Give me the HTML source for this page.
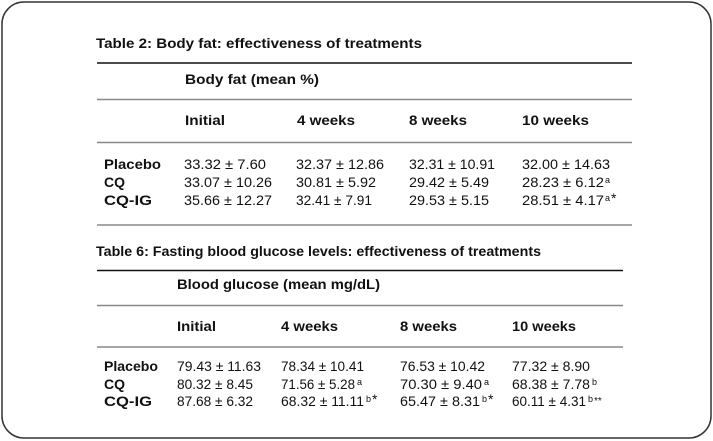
<!DOCTYPE html>
<html><head><style>
html,body{margin:0;padding:0;background:#fff;}
svg{display:block;}
text{font-family:"Liberation Sans",sans-serif;font-size:14px;fill:#111;}
.b{font-weight:bold;}
.s{font-size:9px;}
</style></head><body>
<svg width="713" height="441" viewBox="0 0 713 441">
<rect x="2" y="2" width="709" height="436" rx="22" ry="22" fill="#fff" stroke="#333" stroke-width="1.5"/>
<!-- Table 2 -->
<text class="b" x="96" y="48" textLength="326" lengthAdjust="spacingAndGlyphs">Table 2: Body fat: effectiveness of treatments</text>
<line x1="97" y1="63" x2="632" y2="63" stroke="#111" stroke-width="1.6"/>
<text class="b" x="185" y="84" textLength="134" lengthAdjust="spacingAndGlyphs">Body fat (mean %)</text>
<line x1="97" y1="99.5" x2="632" y2="99.5" stroke="#888" stroke-width="1.5"/>
<text class="b" x="185" y="125" textLength="40" lengthAdjust="spacingAndGlyphs">Initial</text>
<text class="b" x="297" y="125" textLength="58" lengthAdjust="spacingAndGlyphs">4 weeks</text>
<text class="b" x="409" y="125" textLength="58" lengthAdjust="spacingAndGlyphs">8 weeks</text>
<text class="b" x="522" y="125" textLength="67" lengthAdjust="spacingAndGlyphs">10 weeks</text>
<line x1="97" y1="142.5" x2="632" y2="142.5" stroke="#888" stroke-width="1.5"/>
<text class="b" x="104" y="169" textLength="57" lengthAdjust="spacingAndGlyphs">Placebo</text>
<text class="b" x="104" y="187">CQ</text>
<text class="b" x="104" y="205" textLength="48" lengthAdjust="spacingAndGlyphs">CQ-IG</text>
<text x="184" y="169" textLength="82" lengthAdjust="spacingAndGlyphs">33.32 ± 7.60</text>
<text x="184" y="187" textLength="88" lengthAdjust="spacingAndGlyphs">33.07 ± 10.26</text>
<text x="184" y="205" textLength="88" lengthAdjust="spacingAndGlyphs">35.66 ± 12.27</text>
<text x="296" y="169" textLength="88" lengthAdjust="spacingAndGlyphs">32.37 ± 12.86</text>
<text x="296" y="187" textLength="80" lengthAdjust="spacingAndGlyphs">30.81 ± 5.92</text>
<text x="296" y="205" textLength="76" lengthAdjust="spacingAndGlyphs">32.41 ± 7.91</text>
<text x="409" y="169" textLength="86" lengthAdjust="spacingAndGlyphs">32.31 ± 10.91</text>
<text x="409" y="187" textLength="80" lengthAdjust="spacingAndGlyphs">29.42 ± 5.49</text>
<text x="409" y="205" textLength="80" lengthAdjust="spacingAndGlyphs">29.53 ± 5.15</text>
<text x="522" y="169" textLength="88" lengthAdjust="spacingAndGlyphs">32.00 ± 14.63</text>
<text x="522" y="187" textLength="82" lengthAdjust="spacingAndGlyphs">28.23 ± 6.12</text><text class="s" x="605" y="183">a</text>
<text x="522" y="205" textLength="82" lengthAdjust="spacingAndGlyphs">28.51 ± 4.17</text><text class="s" x="605" y="201">a</text><text x="611" y="203">*</text>
<line x1="97" y1="225" x2="632" y2="225" stroke="#888" stroke-width="1.5"/>
<!-- Table 6 -->
<text class="b" x="96" y="256" textLength="445" lengthAdjust="spacingAndGlyphs">Table 6: Fasting blood glucose levels: effectiveness of treatments</text>
<line x1="97" y1="270.5" x2="623" y2="270.5" stroke="#111" stroke-width="1.6"/>
<text class="b" x="177" y="289" textLength="203" lengthAdjust="spacingAndGlyphs">Blood glucose (mean mg/dL)</text>
<line x1="97" y1="305.5" x2="623" y2="305.5" stroke="#888" stroke-width="1.5"/>
<text class="b" x="177" y="331" textLength="39" lengthAdjust="spacingAndGlyphs">Initial</text>
<text class="b" x="281" y="331" textLength="57" lengthAdjust="spacingAndGlyphs">4 weeks</text>
<text class="b" x="400" y="331" textLength="57" lengthAdjust="spacingAndGlyphs">8 weeks</text>
<text class="b" x="512" y="331" textLength="64" lengthAdjust="spacingAndGlyphs">10 weeks</text>
<line x1="97" y1="347" x2="623" y2="347" stroke="#888" stroke-width="1.5"/>
<text class="b" x="104" y="371" textLength="54" lengthAdjust="spacingAndGlyphs">Placebo</text>
<text class="b" x="104" y="389">CQ</text>
<text class="b" x="104" y="406" textLength="48" lengthAdjust="spacingAndGlyphs">CQ-IG</text>
<text x="177" y="371" textLength="84" lengthAdjust="spacingAndGlyphs">79.43 ± 11.63</text>
<text x="177" y="389" textLength="76" lengthAdjust="spacingAndGlyphs">80.32 ± 8.45</text>
<text x="177" y="406" textLength="76" lengthAdjust="spacingAndGlyphs">87.68 ± 6.32</text>
<text x="281" y="371" textLength="83" lengthAdjust="spacingAndGlyphs">78.34 ± 10.41</text>
<text x="281" y="389" textLength="74" lengthAdjust="spacingAndGlyphs">71.56 ± 5.28</text><text class="s" x="357" y="385">a</text>
<text x="281" y="406" textLength="83" lengthAdjust="spacingAndGlyphs">68.32 ± 11.11</text><text class="s" x="366" y="402">b</text><text x="372" y="404">*</text>
<text x="400" y="371" textLength="85" lengthAdjust="spacingAndGlyphs">76.53 ± 10.42</text>
<text x="400" y="389" textLength="82" lengthAdjust="spacingAndGlyphs">70.30 ± 9.40</text><text class="s" x="484" y="385">a</text>
<text x="400" y="406" textLength="80" lengthAdjust="spacingAndGlyphs">65.47 ± 8.31</text><text class="s" x="482" y="402">b</text><text x="488" y="404">*</text>
<text x="512" y="371" textLength="78" lengthAdjust="spacingAndGlyphs">77.32 ± 8.90</text>
<text x="512" y="389" textLength="78" lengthAdjust="spacingAndGlyphs">68.38 ± 7.78</text><text class="s" x="592" y="385">b</text>
<text x="512" y="406" textLength="74" lengthAdjust="spacingAndGlyphs">60.11 ± 4.31</text><text class="s" x="588" y="402">b</text><text x="594" y="404" style="font-size:10px">**</text>
</svg>
</body></html>
